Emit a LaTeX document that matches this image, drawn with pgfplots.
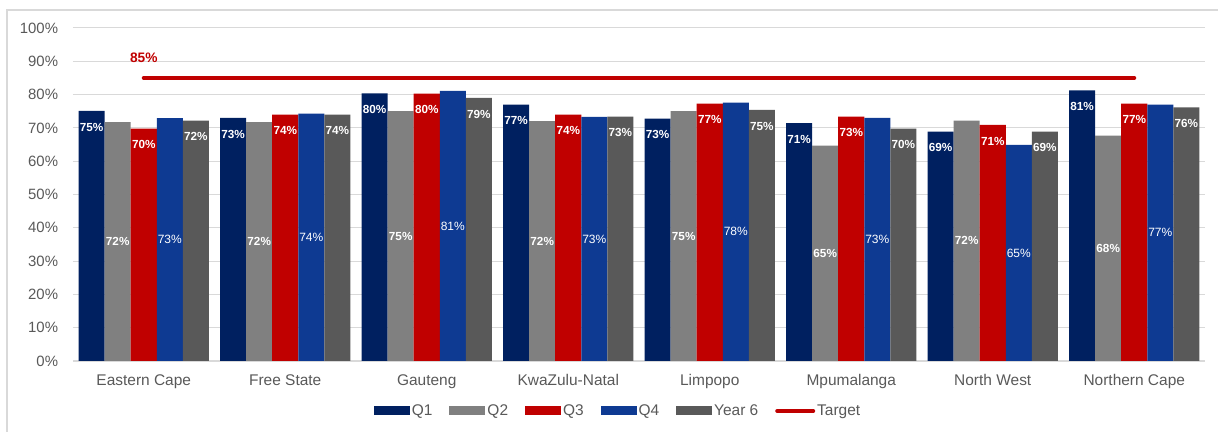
\documentclass[border=0pt]{standalone}
\usepackage{pgfplots}
\usepackage{pgfplotstable}
\pgfplotsset{compat=1.18}
\usepackage{fontspec}
\setmainfont{Liberation Sans}

\definecolor{qOne}{RGB}{0,32,96}
\definecolor{qTwo}{RGB}{128,128,128}
\definecolor{qThree}{RGB}{192,0,0}
\definecolor{qFour}{RGB}{14,58,146}
\definecolor{yearSix}{RGB}{89,89,89}
\definecolor{targetRed}{RGB}{192,0,0}
\definecolor{gridGray}{RGB}{217,217,217}
\definecolor{textGray}{RGB}{89,89,89}

% provinces at x = 0..7
\pgfplotstableread{
x  Q1   Q2   Q3   Q4   Y6
0  75.1 71.7 69.8 72.9 72.2
1  73.0 71.7 74.0 74.3 74.0
2  80.4 75.0 80.3 81.1 79.0
3  77.0 72.0 74.0 73.3 73.4
4  72.8 75.0 77.3 77.6 75.4
5  71.4 64.7 73.4 73.0 69.8
6  68.9 72.2 70.9 64.9 68.9
7  81.3 67.7 77.3 77.0 76.2
}\datatable

\pgfplotstableread{
x  T
0  85
7  85
}\targettable

% one x unit = 849pt/8 = 106.125pt, one bar = 0.184 units = 19.53pt
\pgfplotsset{
    toplab/.style={nodes near coords={\pgfmathprintnumber[fixed,precision=0]{\pgfplotspointmeta}\%},
        every node near coord/.append style={anchor=north, inner sep=0pt, yshift=-8.8pt,
            xshift=#1, text=white, font=\bfseries\fontsize{8.8}{10}\selectfont}},
    midlab/.style 2 args={nodes near coords={\pgfmathprintnumber[fixed,precision=0]{\pgfplotspointmeta}\%},
        visualization depends on={\thisrow{#1} \as \val},
        every node near coord/.append style={anchor=center, inner sep=0pt,
            xshift=#2, yshift={-1.24875pt*\val}, text=white}},
    barleg/.style={legend image code/.code={\fill[##1] (0pt,-3.4pt) rectangle (27pt,3.4pt);}},
    lineleg/.style={legend image code/.code={\draw[##1] (0pt,0pt) -- (27pt,0pt);}},
}

\begin{document}
\begin{tikzpicture}
\useasboundingbox (0,0) rectangle (913.5pt,324pt);
\draw[gridGray, line width=0.8pt] (5.25pt,0) -- (5.25pt,316.5pt) -- (913.5pt,316.5pt);
\begin{axis}[
    at={(54.75pt,53.25pt)},
    anchor=south west,
    scale only axis,
    width=849pt,
    height=249.75pt,
    xmin=-0.5, xmax=7.5,
    ymin=0, ymax=100,
    axis x line*=bottom,
    axis y line*=left,
    x axis line style={gridGray, line width=1pt},
    y axis line style={draw=none},
    ytick={0,10,...,100},
    yticklabel={\pgfmathprintnumber{\tick}\%},
    /pgf/number format/assume math mode=true,
    ymajorgrids=true,
    grid style={gridGray, line width=0.75pt},
    major tick length=0pt,
    yticklabel style={anchor=east, inner sep=0pt, xshift=-11pt,
        font=\fontsize{11.2}{13}\selectfont, text=textGray},
    xtick={0,...,7},
    xticklabels={Eastern Cape,Free State,Gauteng,KwaZulu-Natal,Limpopo,Mpumalanga,North West,Northern Cape},
    xticklabel style={anchor=base, inner sep=0pt, yshift=-18.5pt,
        font=\fontsize{11.6}{13}\selectfont, text=textGray},
    clip=false,
    bar width=0.184,
    legend columns=6,
    legend style={at={(0.4815,-0.150)}, anchor=center, draw=none,
        font=\fontsize{11.6}{13}\selectfont, text=textGray,
        inner sep=0pt,
        nodes={inner sep=1.5pt},
        /tikz/every even column/.append style={column sep=11.2pt}},
    legend cell align=left,
]
\addplot[ybar, bar shift=-0.368, fill=qOne, draw=none, barleg, toplab=-39.05pt]
    table[x=x, y=Q1] {\datatable};
\addlegendentry{Q1}
\addplot[ybar, bar shift=-0.184, fill=qTwo, draw=none, barleg, midlab={Q2}{-19.53pt},
    every node near coord/.append style={font=\bfseries\fontsize{8.8}{10}\selectfont}]
    table[x=x, y=Q2] {\datatable};
\addlegendentry{Q2}
\addplot[ybar, bar shift=0, fill=qThree, draw=none, barleg, toplab=0pt]
    table[x=x, y=Q3] {\datatable};
\addlegendentry{Q3}
\addplot[ybar, bar shift=0.184, fill=qFour, draw=none, barleg, midlab={Q4}{19.53pt},
    every node near coord/.append style={font=\fontsize{9}{10}\selectfont}]
    table[x=x, y=Q4] {\datatable};
\addlegendentry{Q4}
\addplot[ybar, bar shift=0.368, fill=yearSix, draw=none, barleg, toplab=39.05pt]
    table[x=x, y=Y6] {\datatable};
\addlegendentry{Year 6}
\addplot[sharp plot, targetRed, line width=3pt, line cap=round, mark=none, lineleg]
    table[x=x, y=T] {\targettable};
\addlegendentry{Target}
\node[text=targetRed, font=\bfseries\fontsize{10.3}{12}\selectfont, anchor=center]
    at (axis cs:0,85) [yshift=15pt] {85\%};
\end{axis}
\end{tikzpicture}
\end{document}
